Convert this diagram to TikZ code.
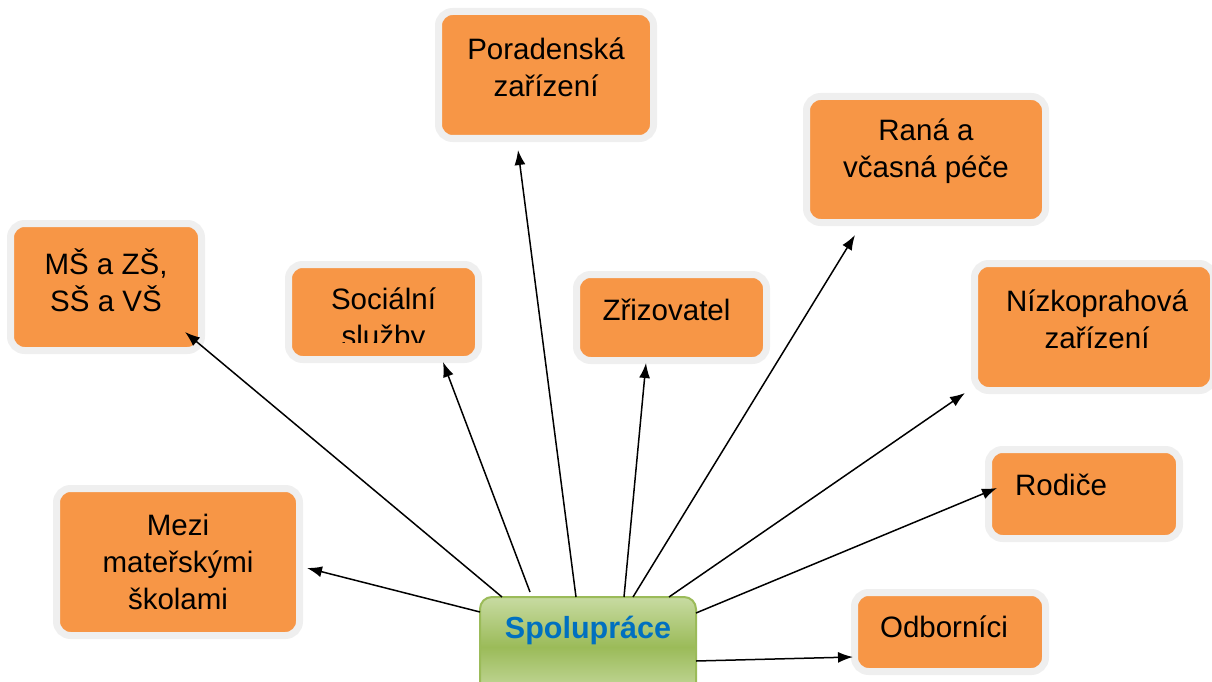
\documentclass[tikz,border=0pt]{standalone}
\usepackage{fontspec}
\setmainfont{Liberation Sans}
\usetikzlibrary{arrows.meta, calc}
\definecolor{boxorange}{HTML}{F79646}
\definecolor{boxgray}{HTML}{EFEFEF}
\definecolor{spoltop}{HTML}{C8DBA2}
\definecolor{spolmid}{HTML}{9BBB59}
\definecolor{spoltext}{HTML}{0070C0}
\tikzset{
>={Latex[length=15pt,width=11pt]}, % filled arrow heads
box/.style={rectangle, rounded corners=14pt, fill=boxorange, draw=boxgray, line width=7pt, inner sep=0pt, outer sep=0pt}, % orange boxes with pale frame
spol/.style={rectangle, rounded corners=12pt, draw=spolmid, line width=2pt, top color=spoltop, bottom color=spoltop, middle color=spolmid, inner sep=0pt, outer sep=0pt}, % green centre box
txt/.style={font=\fontsize{29.5}{37}\selectfont, align=center, inner sep=0pt}, % box texts
link/.style={->, line width=1.5pt}, % connectors
}

\begin{document}
\begin{tikzpicture}[x=1pt, y=-1pt]
        \useasboundingbox (0,0) rectangle (1212,682);

        % boxes
        \node[box, minimum width=215pt, minimum height=127pt] (porad) at (546,75) {};
        \node[box, minimum width=239pt, minimum height=126pt] (rana) at (926,159.5) {};
        \node[box, minimum width=191pt, minimum height=127pt] (msz) at (106,287) {};
        \node[box, minimum width=190pt, minimum height=95pt] (soc) at (383.5,312) {};
        \node[box, minimum width=190pt, minimum height=86pt] (zriz) at (671.5,317.5) {};
        \node[box, minimum width=239pt, minimum height=127pt] (nizko) at (1094,327) {};
        \node[box, minimum width=243pt, minimum height=147pt] (mezi) at (178,562) {};
        \node[box, minimum width=191pt, minimum height=89pt] (rodice) at (1084,494) {};
        \node[box, minimum width=191pt, minimum height=79pt] (odb) at (950,632) {};
        \node[spol, minimum width=216pt, minimum height=100pt] (spolu) at (588,647) {};

        % texts
        \node[txt] (porad-t) at ([yshift=7.5pt]porad.center) {Poradenská\\zařízení};
        \node[txt] (rana-t) at ([yshift=8.5pt]rana.center) {Raná a\\včasná péče};
        \node[txt] (msz-t) at ([yshift=7pt]msz.center) {MŠ a ZŠ,\\SŠ a VŠ};
        \begin{scope}
            \clip (soc.north west) rectangle ($(soc.east)+(0,30)$); % text runs out of its box
            \node[txt] (soc-t) at ([yshift=-8.5pt]soc.center) {Sociální\\služby};
        \end{scope}
        \node[txt] (zriz-t) at ([xshift=-5pt,yshift=7.5pt]zriz.center) {Zřizovatel};
        \node[txt] (nizko-t) at ([xshift=3pt,yshift=8pt]nizko.center) {Nízkoprahová\\zařízení};
        \node[txt] (mezi-t) at (mezi.center) {Mezi\\mateřskými\\školami};
        \node[txt] (rodice-t) at ([xshift=-23pt,yshift=9pt]rodice.center) {Rodiče};
        \node[txt] (odb-t) at ([xshift=-6pt,yshift=5pt]odb.center) {Odborníci};
        \node[txt, font=\fontsize{30.5}{37}\selectfont\bfseries, text=spoltext] (spolu-t) at ([yshift=17pt]spolu.center) {Spolupráce};

        % connectors
        \draw[link] ($(spolu.north west)+(22,0)$) -- ($(msz.south east)+(-16.5,-18.5)$);
        \draw[link] ($(spolu.north west)+(50,-5)$) -- ($(soc.south)+(59.5,2.5)$);
        \draw[link] ($(spolu.north west)+(96,0)$) -- ($(porad.south)+(-28,11.5)$);
        \draw[link] ($(spolu.north west)+(144,0)$) -- ($(zriz.south)+(-25.5,2.5)$);
        \draw[link] ($(spolu.north west)+(153,0)$) -- ($(rana.south)+(-71,12.5)$);
        \draw[link] ($(spolu.north west)+(189,0)$) -- ($(nizko.south west)+(-9.5,2.5)$);
        \draw[link] ($(spolu.north east)+(0,16)$) -- ($(rodice.west)+(8.5,-6)$);
        \draw[link] ($(spolu.north east)+(0,64)$) -- ($(odb.west)+(-1.5,25)$);
        \draw[link] ($(spolu.north west)+(0,15)$) -- ($(mezi.east)+(7.5,6)$);
    \end{tikzpicture}
\end{document}
